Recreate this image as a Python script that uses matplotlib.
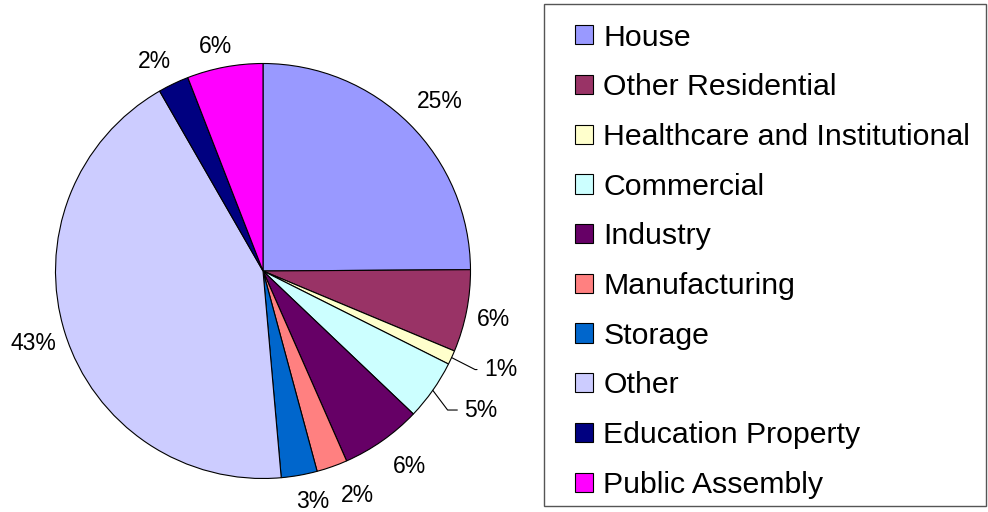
import numpy as np
import matplotlib
matplotlib.use('Agg')
import matplotlib.pyplot as plt
from matplotlib.patches import Rectangle

plt.rcParams['font.family'] = ['Liberation Sans', 'DejaVu Sans']

# ----------------------------------------------------------------------
#  Data (percent share)
# ----------------------------------------------------------------------
categories = ['House', 'Other Residential', 'Healthcare and Institutional',
              'Commercial', 'Industry', 'Manufacturing', 'Storage', 'Other',
              'Education Property', 'Public Assembly']
shares = [24.9, 6.4, 1.1, 4.7, 6.3, 2.4, 2.8, 43.1, 2.4, 5.9]

colors = ['#9999FF', '#993366', '#FFFFCC', '#CCFFFF', '#660066',
          '#FF8080', '#0066CC', '#CCCCFF', '#000080', '#FF00FF']

# label centres (data units, pie radius = 1); None -> leader line label
label_xy = [(0.851, 0.817), (1.113, -0.234), None, None, (0.708, -0.940),
            (0.455, -1.080), (0.241, -1.113), (-1.108, -0.347),
            (-0.525, 1.012), (-0.227, 1.084)]
# leader-line labels: index -> (text left x, text y, leader angle)
leaders = {2: (1.065, -0.475, -27), 3: (0.970, -0.670, -53)}

# ----------------------------------------------------------------------
#  Plot
# ----------------------------------------------------------------------
fig = plt.figure(figsize=(9.88, 5.12), dpi=100)
ax = fig.add_axes([0, 0, 526 / 988, 1])

wedges, _ = ax.pie(shares, colors=colors, startangle=90, counterclock=False,
                   radius=1,
                   wedgeprops=dict(edgecolor='black', linewidth=0.8))
ax.set_xlim(-263 / 207.5, 263 / 207.5)
ax.set_ylim(-241 / 207.5, 271 / 207.5)
ax.set_aspect('equal')

for i, (w, v) in enumerate(zip(wedges, shares)):
    txt = f'{v:.0f}%'
    if i in leaders:
        tx, ty, ang = leaders[i]
        mid = np.deg2rad((w.theta1 + w.theta2) / 2)
        ax.annotate(txt, xy=(np.cos(mid), np.sin(mid)), xytext=(tx, ty),
                    ha='left', va='center', fontsize=16.5,
                    arrowprops=dict(arrowstyle='-', color='black', lw=0.8,
                                    shrinkA=3, shrinkB=0,
                                    connectionstyle=f'angle,angleA=0,angleB={ang},rad=0'))
    else:
        x, y = label_xy[i]
        ax.text(x, y, txt, ha='center', va='center', fontsize=16.5)

fig.legend(wedges, categories, loc='upper left',
           bbox_to_anchor=(575 / 988, (512 - 23.5) / 512),
           frameon=False, fontsize=21.8, handlelength=0.6, handleheight=0.6,
           handletextpad=0.33, labelspacing=0.717, borderpad=0,
           borderaxespad=0)

fig.patches.append(Rectangle((544 / 988, 6 / 512), (986 - 544) / 988,
                             (508 - 6) / 512, transform=fig.transFigure,
                             fill=False, edgecolor='#555555', lw=1))

fig.savefig('out.png', dpi=100)
